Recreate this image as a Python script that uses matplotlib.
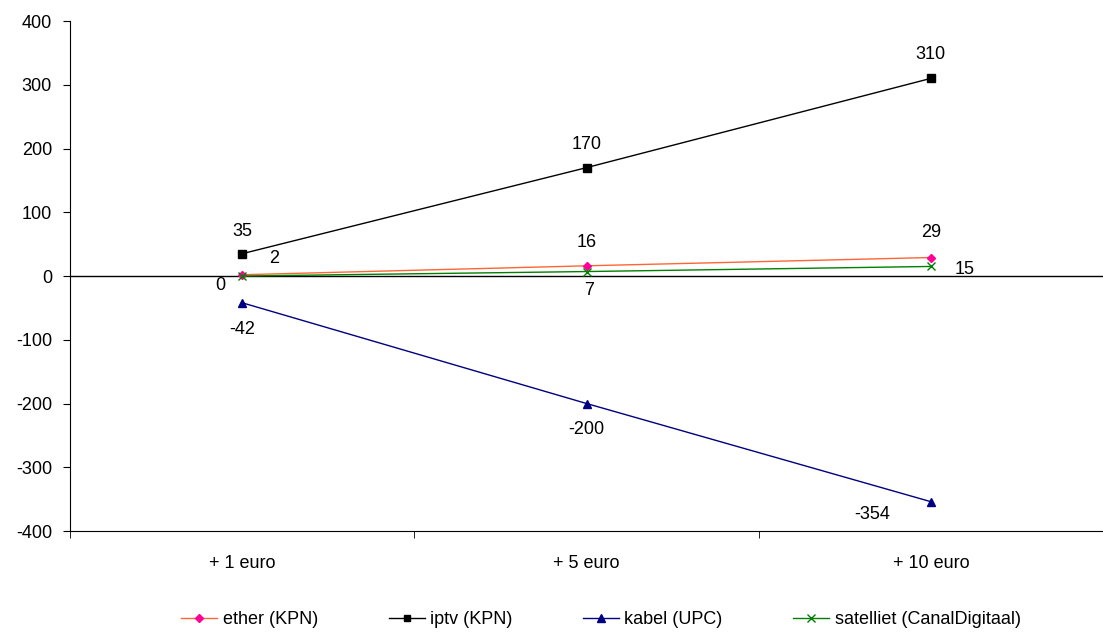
import matplotlib
matplotlib.use("Agg")
import matplotlib.pyplot as plt
import numpy as np

categories = ["+ 1 euro", "+ 5 euro", "+ 10 euro"]
ether = [2, 16, 29]
iptv = [35, 170, 310]
kabel = [-42, -200, -354]
satelliet = [0, 7, 15]

plt.rcParams["font.family"] = ["Liberation Sans", "DejaVu Sans"]
plt.rcParams["font.size"] = 13
plt.rcParams["axes.unicode_minus"] = False

fig = plt.figure(figsize=(11.03, 6.37), dpi=100)
ax = fig.add_axes([0.0635, 0.1664, 0.9365, 0.8006])
x = np.arange(len(categories))

ax.plot(x, ether, color="#FF6633", lw=1, marker="D", ms=4.5, mfc="#FF0099", mec="#FF0099", label="ether (KPN)")
ax.plot(x, iptv, color="black", lw=1, marker="s", ms=5.5, label="iptv (KPN)")
ax.plot(x, kabel, color="#000080", lw=1, marker="^", ms=6, label="kabel (UPC)")
ax.plot(x, satelliet, color="#008000", lw=1, marker="x", ms=6, mew=1, label="satelliet (CanalDigitaal)")

ax.axhline(0, color="black", lw=1, zorder=0)

# data labels (offsets in points)
offs = {
    "ether": [(23, 12), (0, 17), (0, 18)],
    "iptv": [(0, 16), (0, 17), (0, 17)],
    "kabel": [(0, -19), (0, -19), (-42, -9)],
    "satelliet": [(-16, -7), (2, -14), (24, -2)],
}
for name, vals in [("ether", ether), ("iptv", iptv), ("kabel", kabel), ("satelliet", satelliet)]:
    for i, v in enumerate(vals):
        dx, dy = offs[name][i]
        ax.annotate(str(v), (x[i], v), xytext=(dx, dy), textcoords="offset points",
                    ha="center", va="center", fontsize=13)

ax.set_xlim(-0.5, 2.5)
ax.set_ylim(-400, 400)
ax.set_yticks(range(-400, 401, 100))
ax.set_xticks(x)
ax.set_xticklabels(categories)
ax.set_xticks([-0.5, 0.5, 1.5, 2.5], minor=True)
ax.tick_params(axis="x", which="major", length=0, pad=17)
ax.tick_params(axis="x", which="minor", length=5, direction="out")
ax.tick_params(axis="y", length=5, direction="out", pad=8)
for s in ["top", "right"]:
    ax.spines[s].set_visible(False)

ax.legend(loc="upper center", bbox_to_anchor=(0.514, -0.125), ncol=4, frameon=False,
          handlelength=2.0, handletextpad=0.3, columnspacing=3.9, fontsize=13, markerscale=0.85)

fig.savefig("out.png", dpi=100)
